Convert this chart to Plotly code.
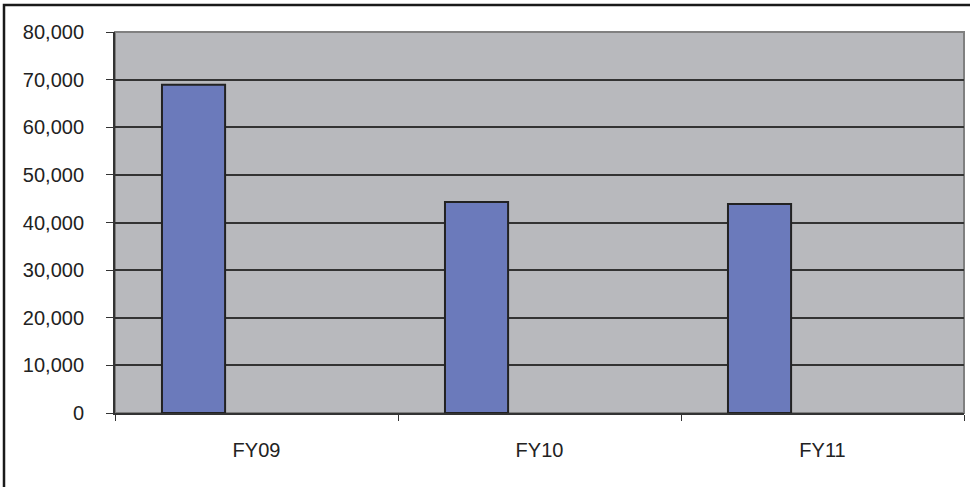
import plotly.graph_objects as go

# Fiscal-year totals
categories = ["FY09", "FY10", "FY11"]
values = [68900, 44300, 43900]
y_ticks = [0, 10000, 20000, 30000, 40000, 50000, 60000, 70000, 80000]
y_tick_labels = ["0", "10,000", "20,000", "30,000", "40,000", "50,000", "60,000", "70,000", "80,000"]

W, H = 970, 487
L, R, T, B = 115, 6, 32, 74
plot_w = W - L - R
plot_h = H - T - B

fig = go.Figure()
fig.add_trace(go.Bar(
    x=categories,
    y=values,
    width=0.223,
    offset=-0.334,
    marker=dict(color="#6b7abb", line=dict(color="#222222", width=2)),
    hoverinfo="x+y",
))

font = dict(family="Liberation Sans, Arial, sans-serif", size=20, color="#222222")

fig.update_layout(
    width=W, height=H,
    margin=dict(l=L, r=R, t=T, b=B, pad=0),
    paper_bgcolor="white",
    plot_bgcolor="#b8b9bd",
    showlegend=False,
    font=font,
    xaxis=dict(
        type="category",
        range=[-0.5, 2.5],
        tickmode="array",
        tickvals=categories,
        ticktext=categories,
        ticks="outside",
        tickson="boundaries",
        ticklen=6,
        tickwidth=1,
        tickcolor="#333333",
        showgrid=False,
        showline=True,
        linecolor="#333333",
        linewidth=2,
        ticklabelstandoff=18,
        tickfont=font,
    ),
    yaxis=dict(
        range=[0, 80000],
        tickmode="array",
        tickvals=y_ticks,
        ticktext=y_tick_labels,
        ticks="outside",
        ticklen=7,
        tickwidth=1,
        tickcolor="#333333",
        showgrid=True,
        gridcolor="#333333",
        gridwidth=1.5,
        zeroline=False,
        showline=True,
        linecolor="#333333",
        linewidth=2,
        ticklabelstandoff=18,
        tickfont=font,
    ),
    shapes=[
        # light border around the plotting area
        dict(type="rect", xref="paper", yref="paper", x0=0, x1=1, y0=0, y1=1,
             line=dict(color="#808080", width=2), layer="below"),
        # outer chart frame
        dict(type="rect", xref="paper", yref="paper",
             x0=(4 - L) / plot_w, x1=(W + 10 - L) / plot_w,
             y0=-(B + 10) / plot_h, y1=(plot_h + T - 5) / plot_h,
             line=dict(color="#1a1a1a", width=2.5), layer="above"),
    ],
)

fig.write_html("out.html")
